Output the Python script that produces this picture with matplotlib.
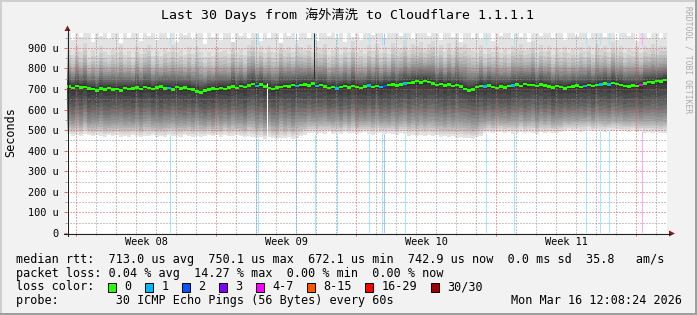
import numpy as np
import matplotlib.pyplot as plt
from matplotlib.patches import Rectangle, Polygon
from matplotlib.colors import to_rgb

# --- данные: 150 интервалов по 0.2 суток, значения в микросекундах ---
median_us = [
    712, 705, 715, 708, 711, 703,
    700, 694, 703, 698, 705, 697, 701, 693, 704, 699,
    703, 708, 700, 710, 704, 699, 707, 712, 702, 706, 698, 709, 703, 707, 701,
    698, 688, 684, 692,
    697, 703, 699, 705, 701, 707,
    712, 706, 715, 709,
    718, 724, 716, 722, 713,
    704, 699, 708, 711,
    716, 712, 720, 714, 719,
    722, 718, 726, 715, 721,
    712, 706, 709, 703, 711,
    714, 708, 716, 711, 705, 713, 717, 709, 714, 710, 716,
    719, 723, 717, 722, 726, 730,
    733, 738, 731, 740, 735,
    727, 721, 725, 718, 723, 716, 720, 712,
    700, 693, 697,
    709, 716, 712, 718,
    711, 705, 713, 708, 714,
    717, 722, 716, 724, 719, 721, 715, 723, 718,
    712, 707, 714, 709, 703, 711,
    713, 718, 711, 716, 720, 714, 719, 722,
    727, 723, 729, 724, 720,
    716, 712, 718, 714, 719,
    728, 734, 731, 738, 736, 743,
]
min_us = [
    480, 474, 478, 471, 483, 476, 470, 479, 474,
    468, 475, 470, 478, 466, 473, 469, 476, 471, 465, 474, 470, 477, 468, 472,
    466, 475, 470, 473, 467, 476, 471, 469, 474, 468,
    472, 477, 470, 475, 468, 479, 473, 470, 476, 471, 467, 474,
    466, 460, 465, 458, 468, 462, 457, 464, 461, 467, 459, 463, 470,
    478, 484, 488, 481, 487, 483, 490, 480, 486, 482, 489, 484,
    487, 481, 486, 490, 483, 479, 488, 484, 480, 486, 482, 478, 484,
    480, 474, 478, 471, 476, 473, 479, 470, 475, 468, 472, 466, 470, 464, 468,
    460, 463, 458, 465, 470,
    485, 490, 484, 489, 493, 486, 491, 483, 488, 492, 485, 490, 487, 482, 489,
    486, 491, 488, 484, 490,
    494, 499, 496, 501, 493, 498, 502, 495, 500, 497, 492, 499, 496, 501, 494,
    497, 493, 499, 490, 495, 488, 493, 486, 491, 484, 488,
]
max_us = [
    975, 940, 975, 955, 975, 975, 930, 975, 960, 975, 945, 975, 975, 925, 975,
    950, 975, 975, 935, 975, 960, 975, 940, 975, 975, 950, 975, 930, 975, 965,
    975, 945, 975, 975, 920, 975, 955, 975, 940, 975, 975, 930, 975, 960, 975,
    945, 975, 975, 935, 975, 950, 975, 975, 925, 975, 960, 975, 940, 975, 975,
    950, 975, 935, 975, 975, 960, 975, 945, 975, 930, 975, 955, 975, 940, 975,
    975, 965, 975, 975, 950, 975, 975, 975, 960, 975, 975, 945, 975, 975, 975,
    960, 975, 975, 940, 975, 975, 955, 975, 930, 975, 975, 950, 975, 945, 975,
    975, 935, 975, 960, 975, 975, 945, 975, 955, 975, 930, 975, 975, 960, 975,
    975, 950, 975, 975, 940, 975, 975, 960, 975, 975, 945, 975, 975, 975, 955,
    975, 975, 940, 975, 975, 960, 975, 935, 975, 975, 950, 975, 975, 945, 975,
]
spread = [
    1.00, 0.90, 1.10, 0.95, 1.18, 0.86, 1.05, 0.93, 1.14, 1.00,
    0.88, 1.10, 0.97, 1.22, 0.90, 1.03, 0.86, 1.12, 0.95, 1.06,
    1.18, 0.90, 1.00, 0.84, 1.10, 0.96, 1.20, 0.92, 1.04, 0.88,
    1.12, 0.95, 1.24, 1.10, 0.90, 1.02, 0.87, 1.15, 0.98, 1.06,
    0.90, 1.20, 0.94, 1.00, 0.86, 1.10, 1.18, 0.93, 1.05, 0.89,
    1.15, 1.00, 0.92, 1.22, 0.96, 1.08, 0.88, 1.12, 1.02, 0.94,
    1.10, 0.86, 1.04, 0.97, 1.16, 0.90, 1.00, 1.12, 0.88, 1.06,
    0.95, 1.20, 0.91, 1.03, 0.87, 1.10, 0.98, 1.15, 0.92, 1.05,
    0.85, 1.12, 0.96, 1.00, 1.18, 0.90, 1.04, 0.94, 1.10, 0.88,
    1.02, 1.16, 0.93, 1.06, 0.89, 1.12, 0.97, 1.20, 1.08, 1.22,
    1.15, 1.05, 0.92, 1.10, 0.88, 1.00, 0.95, 1.14, 0.90, 1.03,
    0.86, 1.08, 0.97, 1.12, 0.92, 1.00, 1.17, 0.89, 1.05, 0.94,
    1.10, 0.87, 1.02, 0.96, 1.13, 0.90, 1.00, 0.85, 1.08, 0.93,
    1.04, 0.88, 1.12, 0.95, 1.00, 0.86, 1.10, 0.92, 1.06, 0.89,
    1.02, 0.94, 1.08, 0.87, 1.00, 0.91, 1.05, 0.88, 0.97, 0.92,
]
# типичный профиль 30 отсортированных пингов: доля пути от медианы к минимуму
# и смещение вверх от медианы (мкс)
ping_below = [0.95, 0.91, 0.87, 0.83, 0.78, 0.73, 0.67, 0.60, 0.53, 0.45, 0.36, 0.26, 0.14, 0.05]
ping_above = [8, 16, 25, 34, 44, 54, 64, 75, 87, 100, 115, 132, 152, 180]

# потери: момент (сутки от начала графика) и число потерянных пингов
loss_days = [5.13, 9.45, 9.55, 11.45, 12.4, 13.5, 15.1, 15.75, 15.85, 16.9,
             20.95, 22.35, 25.95, 26.65, 27.1, 28.75]
loss_counts = [1, 1, 1, 1, 1, 1, 1, 1, 2, 1, 1, 1, 1, 1, 1, 5]
dark_cols = [(12.37, 750, 975)]
gap_cols = [(10.0, 462, 730)]

y_ticks = [0, 100, 200, 300, 400, 500, 600, 700, 800, 900]
y_labels = ['0'] + ['%d u' % v for v in y_ticks[1:]]
week_labels = ['Week 08', 'Week 09', 'Week 10', 'Week 11']
week_start = 0.45

title = 'Last 30 Days from 海外清洗 to Cloudflare 1.1.1.1'
legend_lines = [
    'median rtt:  713.0 us avg  750.1 us max  672.1 us min  742.9 us now  0.0 ms sd  35.8   am/s',
    'packet loss: 0.04 % avg  14.27 % max  0.00 % min  0.00 % now',
]
loss_legend = [('0', '#26ff00'), ('1', '#00b8ff'), ('2', '#0059ff'), ('3', '#7e00ff'),
               ('4-7', '#ff00ff'), ('8-15', '#ff5500'), ('16-29', '#ff0000'), ('30/30', '#a00000')]
probe_text = 'probe:        30 ICMP Echo Pings (56 Bytes) every 60s'
stamp = 'Mon Mar 16 12:08:24 2026'

BIN = 0.2
TOP = 975.06
MONO = 'DejaVu Sans Mono'
W, H = 697, 315


def loss_color(c):
    if c <= 3:
        return loss_legend[c][1]
    if c <= 7:
        return loss_legend[4][1]
    if c <= 15:
        return loss_legend[5][1]
    if c <= 29:
        return loss_legend[6][1]
    return loss_legend[7][1]


def pale(c, a=0.35):
    r, g, b = to_rgb(c)
    return (1 - a + a * r, 1 - a + a * g, 1 - a + a * b)


fig = plt.figure(figsize=(W / 100, H / 100), dpi=100)
fig.patch.set_facecolor('#f2f2f2')
ax = fig.add_axes([67 / W, 1 - 233 / H, 600 / W, 200.5 / H])
ax.set_facecolor('white')
ax.set_xlim(0, 30)
ax.set_ylim(0, TOP)
for s in ax.spines.values():
    s.set_visible(False)

med = np.array(median_us, float)
lo = np.array(min_us, float)
hi = np.minimum(np.array(max_us, float), TOP)
sp = np.array(spread)
n = len(med)
edges = np.arange(n + 1) * BIN


def st(a):
    return np.append(a, a[-1])


cp = np.zeros((30, n))
cp[0] = lo
for j, f in enumerate(ping_below):
    cp[1 + j] = med - (med - lo) * f ** sp
for j, o in enumerate(ping_above):
    cp[15 + j] = np.minimum(med + o * sp, hi)
cp[29] = hi

# линии потерь (фон)
for d, c in zip(loss_days, loss_counts):
    b = min(int(d / BIN), n - 1)
    ax.vlines(d, 0, lo[b], color=pale(loss_color(c)), lw=0.75, zorder=1)

# дым
for k in range(1, 16):
    g = int(190 / 15 * (15 - k)) + 50
    ax.fill_between(edges, st(cp[k - 1]), st(cp[30 - k]), step='post',
                    color='#%02x%02x%02x' % (g, g, g), lw=0, zorder=2)

for d, y0, y1 in dark_cols:
    ax.vlines(d, y0, y1, color='#2a2a2a', lw=0.75, zorder=2.2)
for d, y0, y1 in gap_cols:
    ax.vlines(d, y0, y1, color='white', lw=0.75, zorder=2.2)

for d, c in zip(loss_days, loss_counts):
    ax.vlines(d, 915, TOP, color=pale(loss_color(c)), lw=0.75, zorder=2.3)

# медиана
ax.fill_between(edges, st(med - 6), st(med + 6), step='post', color='#26ff00', lw=0, zorder=4)
for d, c in zip(loss_days, loss_counts):
    b = min(int(d / BIN), n - 1)
    ax.bar(edges[b], 12, bottom=med[b] - 6, width=BIN, align='edge',
           color=loss_color(c), lw=0, zorder=4.5)

# сетка
ax.set_xticks(np.arange(week_start, 30, 7))
ax.set_xticks(np.arange(week_start, 30, 1), minor=True)
ax.set_yticks(y_ticks)
ax.set_yticks(np.arange(50, TOP, 100), minor=True)
ax.set_yticklabels(y_labels, fontsize=7.4, family=MONO)
ax.set_xticklabels([])
ax.set_axisbelow(False)
mg = (0.87, 0.31, 0.31, 0.45)
gg = (0.56, 0.56, 0.56, 0.55)
ax.grid(which='major', color=mg, ls=(0, (1, 2)), lw=0.72)
ax.grid(which='minor', color=gg, ls=(0, (1, 2)), lw=0.72)
ax.tick_params(which='major', length=2.2, width=0.6, color=(0.87, 0.31, 0.31), pad=4)
ax.tick_params(which='minor', length=1.5, width=0.6, color=(0.6, 0.6, 0.6))

for i, lab in enumerate(week_labels):
    ax.text(week_start + 3.5 + 7 * i, -0.045, lab, transform=ax.get_xaxis_transform(),
            ha='center', va='center', fontsize=7.4, family=MONO)

# наложение в пикселях
ov = fig.add_axes([0, 0, 1, 1], zorder=5)
ov.set_xlim(0, W)
ov.set_ylim(H, 0)
ov.axis('off')

axis_c = (0.12, 0.12, 0.12)
arrow_c = (0.5, 0.12, 0.12)
ov.plot([67.5, 67.5], [236, 29], color=axis_c, lw=0.75)
ov.plot([64, 670], [233.5, 233.5], color=axis_c, lw=0.75)
ov.add_patch(Polygon([(64.5, 31), (70.5, 31), (67.5, 25.5)], closed=True, color=arrow_c, lw=0))
ov.add_patch(Polygon([(669, 230.5), (669, 236.5), (675, 233.5)], closed=True, color=arrow_c, lw=0))

ov.text(347.5, 19.5, title, ha='center', va='baseline', fontsize=9.5,
        family=[MONO, 'Noto Sans CJK SC'])
ov.text(11, 132, 'Seconds', rotation=90, ha='center', va='center', fontsize=8.5, family=MONO)
ov.text(688, 60, 'RRDTOOL / TOBI OETIKER', rotation=270, ha='center', va='center',
        fontsize=5.8, family=MONO, color='#ababab')

for i, line in enumerate(legend_lines):
    ov.text(16, 263 + 14 * i, line, ha='left', va='baseline', fontsize=8.5, family=MONO)
ov.text(16, 290.5, 'loss color:', ha='left', va='baseline', fontsize=8.5, family=MONO)
bx = 108
for lab, col in loss_legend:
    ov.add_patch(Rectangle((bx, 283), 8, 8.5, facecolor=col, edgecolor='black', lw=0.7))
    tx = bx + 16.3
    ov.text(tx, 290.5, lab, ha='left', va='baseline', fontsize=8.5, family=MONO)
    bx = tx + len(lab) * 7.12 + 13.5
ov.text(16, 304, probe_text, ha='left', va='baseline', fontsize=8.5, family=MONO)
ov.text(682, 304, stamp, ha='right', va='baseline', fontsize=8.5, family=MONO)

# рамка
ov.add_patch(Rectangle((0, 0), W, 2, color='#cfcfcf', lw=0))
ov.add_patch(Rectangle((0, 0), 2, H, color='#cfcfcf', lw=0))
ov.add_patch(Rectangle((0, H - 2), W, 2, color='#9e9e9e', lw=0))
ov.add_patch(Rectangle((W - 2, 0), 2, H, color='#9e9e9e', lw=0))

fig.savefig('out.png', dpi=100, facecolor=fig.get_facecolor())
